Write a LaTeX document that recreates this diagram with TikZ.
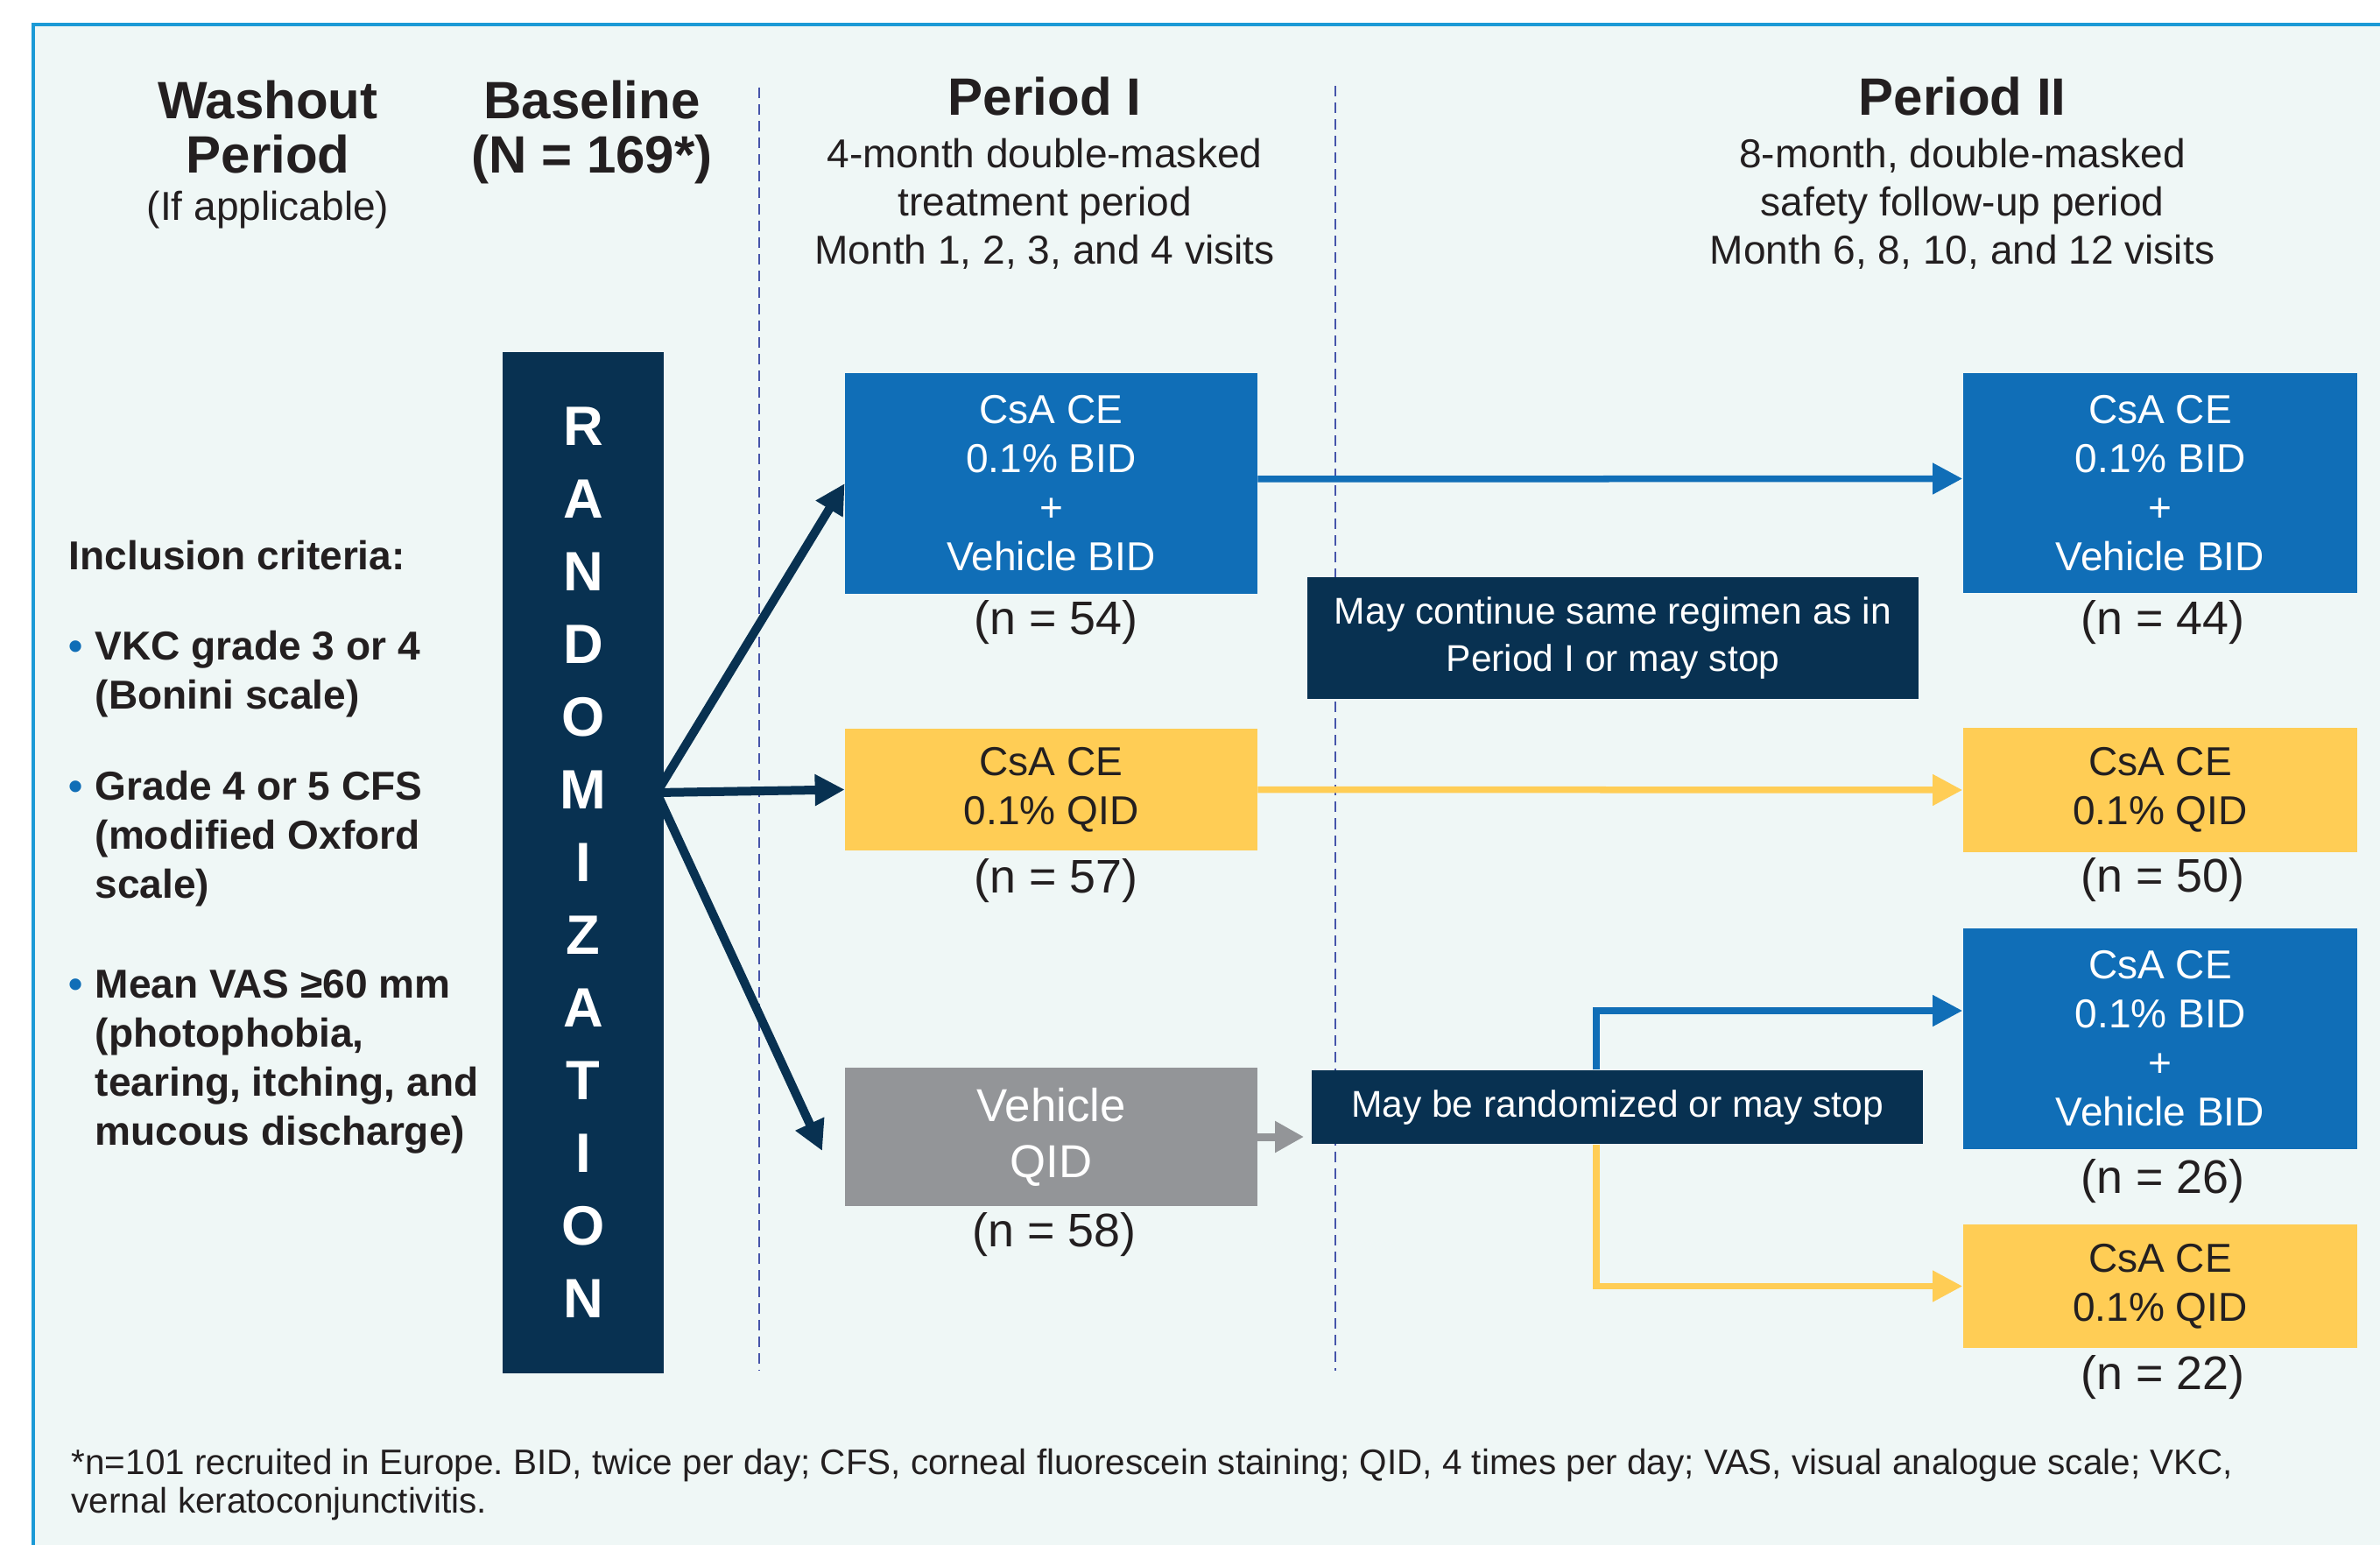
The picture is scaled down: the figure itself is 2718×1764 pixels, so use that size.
\documentclass[tikz,border=0pt]{standalone}
\usepackage{fontspec}
\setmainfont{Liberation Sans}
\usetikzlibrary{arrows.meta}
\definecolor{bgc}{RGB}{239,247,246}
\definecolor{framec}{RGB}{27,154,214}
\definecolor{navy}{RGB}{8,49,81}
\definecolor{boxblue}{RGB}{16,110,183}
\definecolor{boxyel}{RGB}{255,205,85}
\definecolor{boxgray}{RGB}{147,149,152}
\definecolor{dashc}{RGB}{70,85,170}
\definecolor{txt}{RGB}{35,31,32}
\newcommand\bulletdot{\llap{\textcolor{boxblue}{\textbullet}\hspace{0.14cm}}}
\frenchspacing
\begin{document}
\begin{tikzpicture}[x=0.01cm,y=-0.01cm,
  ttl/.style={font=\bfseries\fontsize{17.07pt}{17.9pt}\selectfont, text=txt, align=center, inner sep=0},
  subt/.style={font=\fontsize{13.1pt}{15.65pt}\selectfont, text=txt, align=center, inner sep=0},
  incl/.style={font=\bfseries\fontsize{13.1pt}{15.9pt}\selectfont, text=txt, align=left, inner sep=0},
  bx/.style={rectangle, inner sep=0, align=center, font=\fontsize{13.1pt}{15.9pt}\selectfont},
  bluebx/.style={bx, fill=boxblue, text=white, minimum width=4.7cm},
  yelbx/.style={bx, fill=boxyel, text=txt, minimum width=4.7cm},
  nlab/.style={font=\fontsize{15.3pt}{18pt}\selectfont, text=txt, inner sep=0},
  notebox/.style={rectangle, inner sep=0, align=center, fill=navy, text=white, font=\fontsize{12.1pt}{15.6pt}\selectfont, minimum width=6.98cm},
  footn/.style={font=\fontsize{11.5pt}{12.3pt}\selectfont, text=txt, align=left, inner sep=0},
  dashv/.style={draw=dashc, line width=0.02cm, dash pattern=on 0.12cm off 0.07cm},
  navyarr/.style={draw=navy, line width=0.1cm, -{Triangle[length=0.34cm,width=0.34cm]}},
  bluec/.style={draw=boxblue, line width=0.075cm, -{Triangle[length=0.34cm,width=0.34cm]}},
  yelc/.style={draw=boxyel, line width=0.075cm, -{Triangle[length=0.34cm,width=0.34cm]}},
  grayc/.style={draw=boxgray, line width=0.09cm, -{Triangle[length=0.33cm,width=0.34cm]}, shorten >=0.08cm}
]
\useasboundingbox (0,0) rectangle (2718,1764);
\fill[white] (0,0) rectangle (2718,1764);
\fill[bgc] (38,28) rectangle (2718,1764);
\draw[framec, line width=0.04cm] (38,1764) -- (38,28) -- (2718,28);

% dashed period separators
\draw[dashv] (867,100) -- (867,1565);
\draw[dashv] (1525,98) -- (1525,1565);

% headings (anchor base = baseline of last line)
\node[ttl, anchor=base] (washout) at (306,198) {Washout\\Period};
\node[subt, anchor=base] (ifapp) at (306,252) {(If applicable)};
\node[ttl, anchor=base] (basel) at (676,198) {Baseline\\(N = 169*)};
\node[ttl, anchor=base] (p1t) at (1193,132) {Period I};
\node[subt, anchor=base] (p1s) at (1193,302) {4-month double-masked\\treatment period\\Month 1, 2, 3, and 4 visits};
\node[ttl, anchor=base] (p2t) at (2241,132) {Period II};
\node[subt, anchor=base] (p2s) at (2241,302) {8-month, double-masked\\safety follow-up period\\Month 6, 8, 10, and 12 visits};

% inclusion criteria
\node[incl, anchor=base west] (inc) at (78,650) {Inclusion criteria:};
\node[incl, anchor=base west] (b1) at (108,809) {\bulletdot VKC grade 3 or 4\\(Bonini scale)};
\node[incl, anchor=base west] (b2) at (108,1025) {\bulletdot Grade 4 or 5 CFS\\(modified Oxford\\scale)};
\node[incl, anchor=base west] (b3) at (108,1307) {\bulletdot Mean VAS ≥60 mm\\(photophobia,\\tearing, itching, and\\mucous discharge)};

% Period I boxes
\node[bluebx, minimum height=2.52cm] (P1a) at (1200.5,552) {CsA CE\\0.1\% BID\\+\\Vehicle BID};
\node[yelbx, minimum height=1.39cm] (P1b) at (1200.5,901.5) {CsA CE\\0.1\% QID};
\node[bx, fill=boxgray, text=white, minimum width=4.7cm, minimum height=1.58cm, font=\fontsize{15pt}{18.2pt}\selectfont] (P1c) at (1200.5,1298) {Vehicle\\QID};
\node[nlab] (n54) at (1206,711) {(n = 54)};
\node[nlab] (n57) at (1206,1006) {(n = 57)};
\node[nlab] (n58) at (1204,1410) {(n = 58)};

% Period II boxes
\node[bluebx, minimum width=4.5cm, minimum height=2.51cm] (P2a) at (2467,551.5) {CsA CE\\0.1\% BID\\+\\Vehicle BID};
\node[yelbx, minimum width=4.5cm, minimum height=1.42cm] (P2b) at (2467,902) {CsA CE\\0.1\% QID};
\node[bluebx, minimum width=4.5cm, minimum height=2.52cm] (P2c) at (2467,1186) {CsA CE\\0.1\% BID\\+\\Vehicle BID};
\node[yelbx, minimum width=4.5cm, minimum height=1.41cm] (P2d) at (2467,1468.5) {CsA CE\\0.1\% QID};
\node[nlab] (n44) at (2470,711) {(n = 44)};
\node[nlab] (n50) at (2470,1005) {(n = 50)};
\node[nlab] (n26) at (2470,1349) {(n = 26)};
\node[nlab] (n22) at (2470,1573) {(n = 22)};

% notes
\node[notebox, minimum height=1.39cm] (N1) at (1842,728.5) {May continue same regimen as in\\Period I or may stop};
\node[notebox, minimum height=0.84cm] (N2) at (1847,1264) {May be randomized or may stop};

% connectors
\draw[bluec] ([yshift=0.05cm]P1a.east) -- ([yshift=0.05cm]P2a.west);
\draw[yelc] (P1b.east) -- (P2b.west);
\draw[grayc] (P1c.east) -- (P1c.east -| N2.west);
\coordinate (br) at (1823,1154);
\draw[bluec] (br |- N2.north) -- (br) -- (br -| P2c.west);
\draw[yelc] (br |- N2.south) |- (P2d.west);

% randomization arrows
\coordinate (src) at (750,905);
\coordinate (t3) at (939,1314);
\draw[navyarr] (src) -- (P1a.west);
\draw[navyarr] (src) -- (P1b.west);
\draw[navyarr] (src) -- (t3);

\node[rectangle, fill=navy, text=white, inner sep=0, minimum width=1.84cm, minimum height=11.66cm, align=center, font=\bfseries\fontsize{18pt}{23.6pt}\selectfont] (rand) at (666,985) {R\\A\\N\\D\\O\\M\\I\\Z\\A\\T\\I\\O\\N};

% footnote
\node[footn, anchor=base west] (fn) at (81,1727) {*n=101 recruited in Europe. BID, twice per day; CFS, corneal fluorescein staining; QID, 4 times per day; VAS, visual analogue scale; VKC,\\vernal keratoconjunctivitis.};
\end{tikzpicture}
\end{document}
